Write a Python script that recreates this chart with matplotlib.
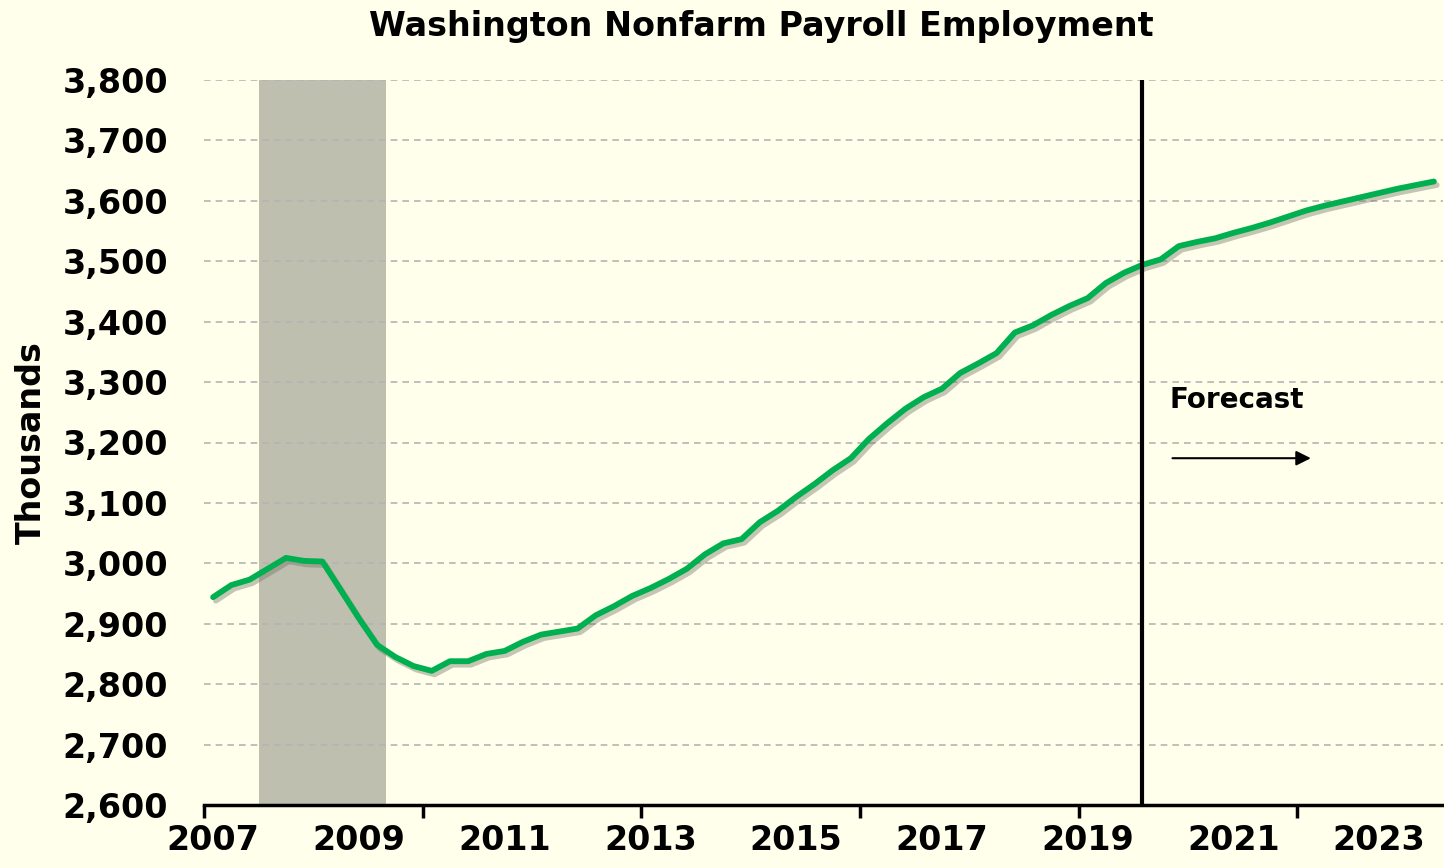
import matplotlib.pyplot as plt
import matplotlib.patheffects as pe
import numpy as np

# quarterly, 2007Q1 .. 2023Q4 (thousands)
years = list(range(2007, 2024))
payroll = [2944, 2964, 2973, 2991, 3009, 3004, 3003, 2956,
           2909, 2865, 2845, 2830, 2822, 2838, 2838, 2850,
           2855, 2870, 2882, 2887, 2892, 2914, 2929, 2946,
           2959, 2974, 2991, 3015, 3033, 3040, 3068, 3087,
           3110, 3131, 3154, 3174, 3206, 3232, 3256, 3275,
           3289, 3315, 3331, 3348, 3382, 3394, 3411, 3426,
           3439, 3464, 3481, 3494, 3503, 3525, 3532, 3538,
           3547, 3555, 3564, 3574, 3584, 3592, 3599, 3606,
           3613, 3620, 3626, 3632]
recession_start = 3    # 2007Q4
recession_end = 9      # 2009Q2
forecast_start = 51    # 2019Q4

bg = '#FFFFEB'
plt.rcParams['font.family'] = ['DejaVu Sans']
plt.rcParams['font.weight'] = 'bold'

fig = plt.figure(figsize=(14.44, 8.68), dpi=100, facecolor=bg)
ax = fig.add_axes([204 / 1444, 1 - 805 / 868, 1239 / 1444, 725 / 868])
ax.set_facecolor(bg)

x = np.arange(len(payroll))
ax.axvspan(recession_start - 0.5, recession_end + 0.5, color='#BFBFB0', zorder=1, lw=0)

for v in range(2700, 3801, 100):
    ax.axhline(v, color='#B4B4B4', lw=1.2, ls=(0, (4, 3)), zorder=2)

ax.plot(x, payroll, color='#00B050', lw=4.2, solid_capstyle='round', zorder=4,
        path_effects=[pe.SimpleLineShadow(offset=(2, -2.5), shadow_color='#707060', alpha=0.4),
                      pe.Normal()])

ax.axvline(forecast_start, color='black', lw=3, zorder=5)
ax.text(52.5, 3270, 'Forecast', fontsize=20, fontweight='bold', va='center', ha='left')
ax.annotate('', xy=(60.4, 3174), xytext=(52.5, 3174),
            arrowprops=dict(arrowstyle='-|>', color='black', lw=1.5, mutation_scale=22))

ax.set_xlim(-0.5, len(payroll) - 0.5)
ax.set_ylim(2600, 3800)
ax.set_yticks(range(2600, 3801, 100))
ax.set_yticklabels([f'{v:,}' for v in range(2600, 3801, 100)], fontsize=24, fontweight='bold')
ax.tick_params(axis='y', length=0, pad=26)

# tick marks every 3 years, labels every 2 years
ax.set_xticks(np.arange(-0.5, len(payroll), 12))
ax.set_xticklabels([])
ax.tick_params(axis='x', which='major', length=9, width=2.5, direction='out')
lab_pos = np.arange(0, len(payroll), 8)
ax.set_xticks(lab_pos, minor=True)
ax.set_xticklabels([str(years[i // 4]) for i in lab_pos], minor=True, fontsize=24, fontweight='bold')
ax.tick_params(axis='x', which='minor', length=0, pad=14)

for s in ['top', 'right', 'left']:
    ax.spines[s].set_visible(False)
ax.spines['bottom'].set_linewidth(2.5)
ax.spines['bottom'].set_zorder(6)

ax.set_ylabel('Thousands', fontsize=24, fontweight='bold')
ax.yaxis.set_label_coords(-0.126, 0.5)
fig.text(0.527, 0.97, 'Washington Nonfarm Payroll Employment', ha='center', va='center',
         fontsize=24, fontweight='bold')

fig.savefig('out.png', dpi=100, facecolor=bg)
